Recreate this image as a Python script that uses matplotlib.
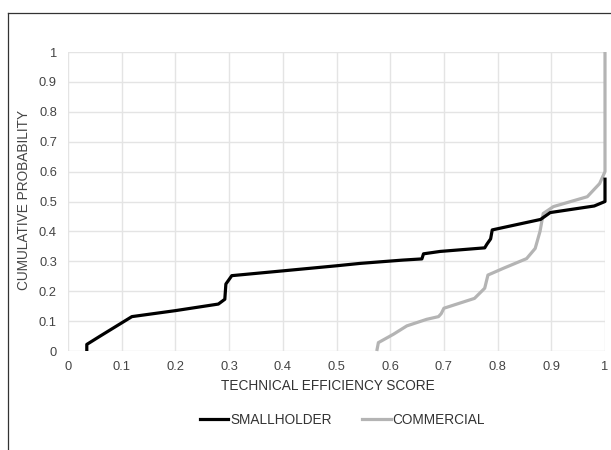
import matplotlib
matplotlib.use("Agg")
import matplotlib.pyplot as plt
from matplotlib.lines import Line2D

plt.rcParams['font.family'] = ['Liberation Sans', 'DejaVu Sans']

# Data
small_x = [0.035, 0.035, 0.06, 0.119, 0.2, 0.28, 0.292, 0.294, 0.305, 0.4, 0.5,
           0.544, 0.623, 0.659, 0.662, 0.693, 0.776, 0.78, 0.787, 0.79, 0.88,
           0.898, 0.98, 1.0, 1.0]
small_y = [0.0, 0.022, 0.05, 0.115, 0.135, 0.157, 0.173, 0.224, 0.252, 0.268, 0.285,
           0.293, 0.304, 0.308, 0.325, 0.333, 0.345, 0.357, 0.375, 0.405, 0.44,
           0.463, 0.485, 0.5, 0.58]
comm_x = [0.575, 0.578, 0.606, 0.631, 0.668, 0.69, 0.695, 0.70, 0.757, 0.776, 0.782,
          0.81, 0.854, 0.87, 0.879, 0.885, 0.904, 0.967, 0.99, 1.0, 1.0]
comm_y = [0.0, 0.028, 0.056, 0.084, 0.106, 0.115, 0.125, 0.143, 0.176, 0.21, 0.254,
          0.276, 0.309, 0.343, 0.40, 0.46, 0.483, 0.516, 0.56, 0.6, 1.0]
x_ticks = [0, 0.1, 0.2, 0.3, 0.4, 0.5, 0.6, 0.7, 0.8, 0.9, 1]
y_ticks = [0, 0.1, 0.2, 0.3, 0.4, 0.5, 0.6, 0.7, 0.8, 0.9, 1]
x_labels = ['0', '0.1', '0.2', '0.3', '0.4', '0.5', '0.6', '0.7', '0.8', '0.9', '1']
y_labels = ['0', '0.1', '0.2', '0.3', '0.4', '0.5', '0.6', '0.7', '0.8', '0.9', '1']

fig = plt.figure(figsize=(6.11, 4.5), dpi=100)
ax = fig.add_axes([68/611, 1 - 351/450, (605-68)/611, (351-52)/450])

ax.set_xlim(0, 1)
ax.set_ylim(0, 1)
ax.set_xticks(x_ticks)
ax.set_xticklabels(x_labels)
ax.set_yticks(y_ticks)
ax.set_yticklabels(y_labels)
ax.grid(True, color='#e4e4e4', linewidth=1.0)
ax.set_axisbelow(True)
for s in ax.spines.values():
    s.set_visible(False)
ax.tick_params(length=0, labelsize=9.3, labelcolor='#444444')
ax.tick_params(axis='x', pad=7)
ax.tick_params(axis='y', pad=8)

ax.plot(small_x, small_y, color='black', lw=2.3, solid_joinstyle='round',
        solid_capstyle='butt', clip_on=False, zorder=3)
ax.plot(comm_x, comm_y, color='#b4b4b4', lw=2.3, solid_joinstyle='round',
        solid_capstyle='butt', clip_on=False, zorder=2)

fig.text(24/611, 1 - 200/450, 'CUMULATIVE PROBABILITY', rotation=90, ha='center',
         va='center', fontsize=9.8, color='#444444')
fig.text(328/611, 1 - 386/450, 'TECHNICAL EFFICIENCY SCORE', ha='center',
         va='center', fontsize=9.8, color='#333333')

handles = [Line2D([], [], color='black', lw=2.3),
           Line2D([], [], color='#b4b4b4', lw=2.3)]
leg = fig.legend(handles, ['SMALLHOLDER', 'COMMERCIAL'], loc='center',
                 bbox_to_anchor=(342.5/611, 1 - 420/450), ncol=2, frameon=False,
                 fontsize=9.8, handlelength=2.1, handletextpad=0.15,
                 columnspacing=2.2, borderpad=0, borderaxespad=0)
for t in leg.get_texts():
    t.set_color('#333333')

# outer frame (top and left)
fig.add_artist(Line2D([8/611, 1], [1 - 13/450, 1 - 13/450], color='#333333', lw=0.9,
                      transform=fig.transFigure))
fig.add_artist(Line2D([8/611, 8/611], [0, 1 - 13/450], color='#333333', lw=0.9,
                      transform=fig.transFigure))

fig.savefig('out.png', dpi=100)
